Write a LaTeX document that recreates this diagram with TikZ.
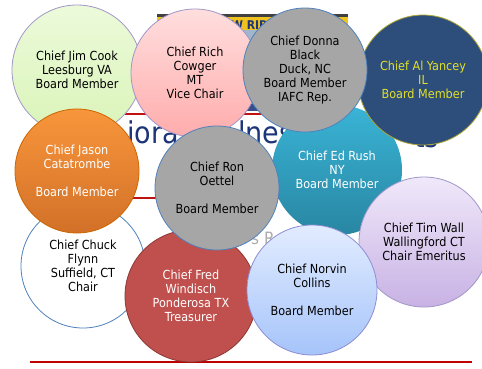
\documentclass[tikz,border=0pt]{standalone}
\usepackage{fontspec}
\setmainfont{DejaVu Sans Condensed}
\begin{document}
\begin{tikzpicture}[x=1pt,y=-1pt,
  member/.style={circle, inner sep=0pt, minimum size=#1, align=center,
    font=\fontsize{12.5}{14}\selectfont, line width=0.8pt},
  titlefrag/.style={inner sep=0pt, anchor=base west, text=titleblue,
    font=\fontsize{30}{30}\selectfont},
  redrule/.style={draw=ruleRed, line width=2.4pt}]
\definecolor{titleblue}{RGB}{28,52,120}
\definecolor{ruleRed}{RGB}{192,16,16}
\definecolor{bannerYellow}{RGB}{240,194,30}
\definecolor{bannerSky}{RGB}{160,182,204}
\definecolor{edgeBlue}{RGB}{79,129,189}
\definecolor{edgeLilac}{RGB}{160,150,200}
\definecolor{navyDisc}{RGB}{45,77,122}
\definecolor{yellowText}{RGB}{226,224,40}

\useasboundingbox (0,0) rectangle (482,368);
\fill[white] (0,0) rectangle (482,368);

% banner strip behind the discs
\fill[bannerSky] (157,14) rectangle (348,110);
\fill[black!75] (157,14) rectangle (348,17);
\fill[bannerYellow] (157,17) rectangle (348,30);
\node[inner sep=0pt, anchor=base west, text=titleblue,
  font=\bfseries\fontsize{12}{12}\selectfont] (ribbon) at (231,29) {W RIB};
\fill[titleblue!80!bannerSky] (157,104) rectangle (348,111);
\draw[redrule] (125,114) -- (355,114);

% title fragments
\node[titlefrag] (t1) at (127,143) {iora};
\node[titlefrag] (t2) at (238,143) {lnes};
\node[titlefrag] (t3) at (414,147) {ts};
\draw[redrule] (125,198) -- (300,198);
\node[inner sep=0pt, anchor=base west, text=black!32,
  font=\fontsize{17}{17}\selectfont] (sub) at (251,244) {s R};

% bottom rule
\draw[draw=red!75!black, line width=1.1pt] (30,362) -- (472,362);

% board member discs
\node[member=130pt, draw=edgeLilac, top color={rgb,255:red,236;green,250;blue,218}, bottom color={rgb,255:red,218;green,244;blue,184}]
  (jim) at (77,70) {Chief Jim Cook\\Leesburg VA\\Board Member};
\node[member=124pt, draw=edgeBlue, fill=white]
  (chuck) at (83,266) {Chief Chuck\\Flynn\\Suffield, CT\\Chair};
\node[member=124pt, draw=orange!80!black, top color={rgb,255:red,248;green,150;blue,60}, bottom color={rgb,255:red,210;green,112;blue,40}, text=white]
  (jason) at (77,171) {Chief Jason\\Catatrombe\\[14pt]Board Member};
\node[member=128pt, draw=edgeLilac, top color={rgb,255:red,255;green,222;blue,222}, bottom color={rgb,255:red,255;green,172;blue,172}]
  (rich) at (195,73) {Chief Rich\\Cowger\\MT\\Vice Chair};
\node[member=130pt, draw=none, top color={rgb,255:red,58;green,180;blue,214}, bottom color={rgb,255:red,40;green,134;blue,162}, text=white]
  (ed) at (337,170) {Chief Ed Rush\\NY\\Board Member};
\node[member=130pt, draw=olive!70!white, fill=navyDisc, text=yellowText]
  (al) at (423,80) {Chief Al Yancey\\IL\\Board Member};
\node[member=124pt, draw=edgeBlue, fill=black!35]
  (donna) at (305,70) {Chief Donna\\Black\\Duck, NC\\Board Member\\IAFC Rep.};
\node[member=132pt, draw={rgb,255:red,140;green,56;blue,54}, fill={rgb,255:red,192;green,80;blue,77}, text=white]
  (fred) at (191,296) {Chief Fred\\Windisch\\Ponderosa TX\\Treasurer};
\node[member=124pt, draw=edgeBlue, fill=black!35]
  (ron) at (217,188) {Chief Ron\\Oettel\\[14pt]Board Member};
\node[member=130pt, draw=edgeLilac, top color={rgb,255:red,240;green,232;blue,250}, bottom color={rgb,255:red,200;green,178;blue,228}]
  (tim) at (424,242) {Chief Tim Wall\\Wallingford CT\\Chair Emeritus};
\node[member=130pt, draw={rgb,255:red,140;green,140;blue,210}, top color={rgb,255:red,226;green,236;blue,255}, bottom color={rgb,255:red,166;green,196;blue,250}]
  (norvin) at (312,290) {Chief Norvin\\Collins\\[14pt]Board Member};
\end{tikzpicture}
\end{document}
